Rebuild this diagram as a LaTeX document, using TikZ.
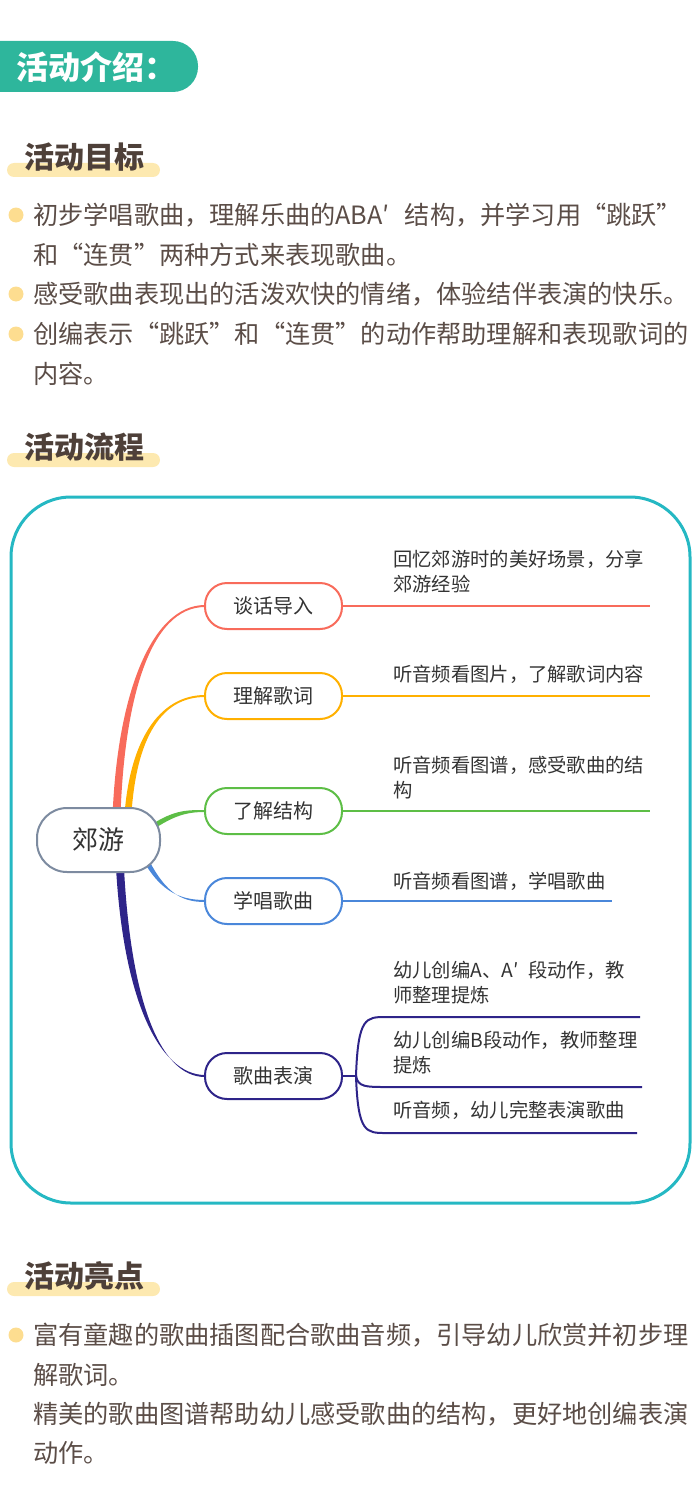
\documentclass[tikz,border=0pt]{standalone}
\usepackage{fontspec}
\setmainfont{Noto Sans CJK SC}
\usetikzlibrary{positioning,calc}

\definecolor{headteal}{HTML}{2EB69C}
\definecolor{baryellow}{HTML}{FDE9B0}
\definecolor{dotyellow}{HTML}{FDDD90}
\definecolor{headbrown}{HTML}{4E4039}
\definecolor{bodybrown}{HTML}{5B4D47}
\definecolor{frameteal}{HTML}{25B8C3}
\definecolor{mmtext}{HTML}{333333}
\definecolor{mmgrey}{HTML}{7D8BA0}
\definecolor{mmred}{HTML}{F86B5B}
\definecolor{mmorange}{HTML}{FFB000}
\definecolor{mmgreen}{HTML}{5DBE46}
\definecolor{mmblue}{HTML}{4A87DA}
\definecolor{mmpurple}{HTML}{2E2489}

% tapered main branch: colour, start, control 1, control 2, end, half width at start
\newcommand{\mmbranch}[6]{%
  \fill[#1] ($(#2)-#6$) .. controls ($(#3)-#6$) and ($(#4)+(0,-1)$) .. ($(#5)+(0,-1)$)
    -- ($(#5)+(0,1)$) .. controls ($(#4)+(0,1)$) and ($(#3)+#6$) .. ($(#2)+#6$) -- cycle;%
}

\tikzset{
  heading/.style={anchor=west, inner sep=0pt, text=headbrown,
    font=\bfseries\fontsize{30}{30}\selectfont},
  bodytext/.style={anchor=west, inner sep=0pt, text=bodybrown,
    font=\fontsize{25.2}{25.2}\selectfont},
  mmnode/.style={draw, fill=white, line width=2pt, rounded corners=22pt,
    minimum width=137pt, minimum height=46pt, text=mmtext,
    font=\fontsize{20}{20}\selectfont},
  leaftext/.style={anchor=north west, inner sep=0pt, align=left, text=mmtext,
    font=\fontsize{19.3}{25}\selectfont},
  leafline/.style={line width=2pt},
}

\begin{document}
\begin{tikzpicture}[x=1pt,y=-1pt]
  \useasboundingbox (0,0) rectangle (700,1498);

  % Title tab
  \fill[headteal, rounded corners=25pt] (-40,41) rectangle (198,92);%
  \node[anchor=west, inner sep=0pt, text=white, font=\bfseries\fontsize{32}{32}\selectfont]
    (intro) at (16,67) {活动介绍：};%

  % Goals
  \fill[baryellow, rounded corners=7pt] (7,163) rectangle (160,177);%
  \node[heading] (goalhead) at (24,157) {活动目标};%
  \fill[dotyellow] (16,215) circle (7.5);%
  \fill[dotyellow] (16,294) circle (7.5);%
  \fill[dotyellow] (16,334) circle (7.5);%
  \node[bodytext] (goalA1) at (33,215) {初步学唱歌曲，理解乐曲的ABA′\hspace{0.6em}结构，并学习用“跳跃”};%
  \node[bodytext] (goalA2) at (33,255) {和“连贯”两种方式来表现歌曲。};%
  \node[bodytext] (goalB) at (33,294) {感受歌曲表现出的活泼欢快的情绪，体验结伴表演的快乐。};%
  \node[bodytext] (goalC1) at (33,334) {创编表示“跳跃”和“连贯”的动作帮助理解和表现歌词的};%
  \node[bodytext] (goalC2) at (33,374) {内容。};%

  % Flow
  \fill[baryellow, rounded corners=7pt] (7,453) rectangle (160,467);%
  \node[heading] (flowhead) at (24,447) {活动流程};%
  \draw[frameteal, line width=3pt, rounded corners=60pt] (11,497) rectangle (690,1203);%

  % Main branches
  \mmbranch{mmred}{116,835}{118,700}{150,606}{205,606}{(4,0)}%
  \mmbranch{mmorange}{127,835}{129,740}{160,696}{205,696}{(3.5,0)}%
  \mmbranch{mmgreen}{145,832}{172,813}{185,811}{205,811}{(0,3)}%
  \mmbranch{mmblue}{140,848}{160,892}{180,901}{205,901}{(3,0)}%
  \mmbranch{mmpurple}{119,845}{124,1000}{160,1076}{205,1076}{(4,0)}%

  % Nodes
  \node[draw=mmgrey, fill=white, line width=2pt, rounded corners=30pt,
    minimum width=123pt, minimum height=64pt, text=mmtext,
    font=\fontsize{26}{26}\selectfont] (trip) at (98.5,840) {郊游};%
  \node[mmnode, draw=mmred] (talk) at (273.5,606) {谈话导入};%
  \node[mmnode, draw=mmorange] (lyric) at (273.5,696) {理解歌词};%
  \node[mmnode, draw=mmgreen] (struct) at (273.5,811) {了解结构};%
  \node[mmnode, draw=mmblue] (sing) at (273.5,901) {学唱歌曲};%
  \node[mmnode, draw=mmpurple] (perform) at (273.5,1076) {歌曲表演};%

  % Leaf lines
  \coordinate (talkend) at (650,606);%
  \coordinate (lyricend) at (650,696);%
  \coordinate (structend) at (650,811);%
  \coordinate (singend) at (612,901);%
  \draw[leafline, mmred] (talk.east) -- (talkend);%
  \draw[leafline, mmorange] (lyric.east) -- (lyricend);%
  \draw[leafline, mmgreen] (struct.east) -- (structend);%
  \draw[leafline, mmblue] (sing.east) -- (singend);%

  \coordinate (perfjoint) at (356,1076);%
  \coordinate (perfendA) at (640,1017);%
  \coordinate (perfendB) at (642,1087);%
  \coordinate (perfendC) at (637,1133);%
  \draw[leafline, mmpurple] (perform.east) -- (perfjoint);%
  \draw[leafline, mmpurple] (perfjoint) .. controls (358,1017) and (366,1017) .. (386,1017) -- (perfendA);%
  \draw[leafline, mmpurple] (perfjoint) .. controls (358,1087) and (366,1087) .. (386,1087) -- (perfendB);%
  \draw[leafline, mmpurple] (perfjoint) .. controls (358,1133) and (366,1133) .. (386,1133) -- (perfendC);%

  % Leaf texts
  \node[leaftext] (talktxt) at (393,550) {回忆郊游时的美好场景，分享\\郊游经验};%
  \node[leaftext] (lyrictxt) at (393,665) {听音频看图片，了解歌词内容};%
  \node[leaftext] (structtxt) at (393,756) {听音频看图谱，感受歌曲的结\\构};%
  \node[leaftext] (singtxt) at (393,872) {听音频看图谱，学唱歌曲};%
  \node[leaftext] (perftxtA) at (393,961) {幼儿创编A、A′\hspace{0.5em}段动作，教\\师整理提炼};%
  \node[leaftext] (perftxtB) at (393,1031) {幼儿创编B段动作，教师整理\\提炼};%
  \node[leaftext] (perftxtC) at (393,1101) {听音频，幼儿完整表演歌曲};%

  % Highlights
  \fill[baryellow, rounded corners=7pt] (7,1282) rectangle (160,1296);%
  \node[heading] (highhead) at (24,1276) {活动亮点};%
  \fill[dotyellow] (16,1335) circle (7.5);%
  \node[bodytext] (highA1) at (33,1335) {富有童趣的歌曲插图配合歌曲音频，引导幼儿欣赏并初步理};%
  \node[bodytext] (highA2) at (33,1375) {解歌词。};%
  \node[bodytext] (highB1) at (33,1414) {精美的歌曲图谱帮助幼儿感受歌曲的结构，更好地创编表演};%
  \node[bodytext] (highB2) at (33,1453) {动作。};%
\end{tikzpicture}
\end{document}
